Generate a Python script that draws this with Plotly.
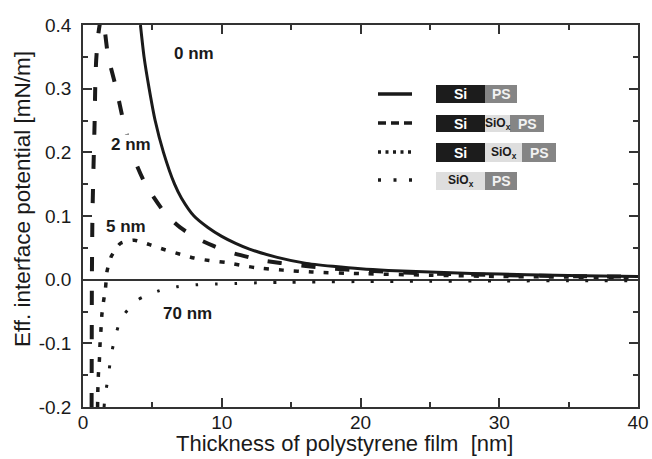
import plotly.graph_objects as go

# Si / PS  (0 nm oxide)
x_0nm = [4.14, 4.4, 4.77, 5.2, 5.8, 6.6, 7.1, 8.0, 9.0, 10.0, 11.0, 12.0, 14.0, 16.0, 18.0, 20.0, 22.0, 25.0, 28.0, 32.0, 36.0, 40.0]
y_0nm = [0.40, 0.35, 0.30, 0.25, 0.20, 0.15, 0.128, 0.10, 0.082, 0.068, 0.057, 0.048, 0.035, 0.026, 0.021, 0.017, 0.0145, 0.012, 0.0098, 0.0078, 0.0062, 0.005]

# Si / SiOx 2 nm / PS
x_2nm = [0.62, 0.63, 0.64, 0.68, 0.76, 0.84, 0.88, 0.95, 1.10, 1.25, 1.40, 1.55, 1.80, 2.40, 2.90, 3.60, 4.50, 6.00, 7.00, 8.30, 9.40, 10.6, 12.0, 13.0, 15.4, 17.4, 20.0, 25.0, 30.0, 35.0, 40.0]
y_2nm = [-0.2, -0.1, 0.0, 0.1, 0.18, 0.25, 0.30, 0.345, 0.385, 0.405, 0.412, 0.395, 0.352, 0.30, 0.25, 0.195, 0.15, 0.102, 0.082, 0.064, 0.053, 0.043, 0.035, 0.030, 0.023, 0.0185, 0.0145, 0.0098, 0.0072, 0.0056, 0.0046]

# Si / SiOx 5 nm / PS
x_5nm = [1.05, 1.07, 1.11, 1.18, 1.23, 1.29, 1.36, 1.48, 1.62, 1.73, 2.05, 2.7, 3.7, 4.8, 5.9, 7.0, 8.0, 9.1, 10.3, 11.3, 12.4, 14.4, 16.5, 20.0, 25.0, 30.0, 35.0, 40.0]
y_5nm = [-0.2, -0.173, -0.149, -0.127, -0.10, -0.08, -0.055, -0.034, -0.014, 0.013, 0.037, 0.057, 0.062, 0.055, 0.047, 0.040, 0.034, 0.030, 0.027, 0.023, 0.019, 0.015, 0.012, 0.0095, 0.007, 0.005, 0.004, 0.003]

# SiOx 70 nm / PS
x_70nm = [1.52, 1.59, 1.83, 2.0, 2.31, 2.75, 3.93, 5.4, 6.8, 8.2, 9.6, 11.0, 12.5, 15.0, 20.0, 25.0, 30.0, 35.0, 40.0]
y_70nm = [-0.2, -0.182, -0.152, -0.122, -0.091, -0.061, -0.032, -0.018, -0.011, -0.008, -0.0069, -0.006, -0.005, -0.004, -0.003, -0.0025, -0.002, -0.0018, -0.0015]

x_ticks = [0, 10, 20, 30, 40]
y_ticks = [-0.2, -0.1, 0.0, 0.1, 0.2, 0.3, 0.4]
y_ticktext = ['-0.2', '-0.1', '0.0', '0.1', '0.2', '0.3', '0.4']

curve_labels = ['0 nm', '2 nm', '5 nm', '70 nm']
label_x = [7.99, 3.47, 3.13, 7.52]
label_y = [0.355, 0.213, 0.084, -0.053]

FONT = 'Arial, Liberation Sans, sans-serif'
INK = '#1a1a1a'
AX = '#333333'

fig = go.Figure()
fig.add_scatter(x=x_0nm, y=y_0nm, mode='lines', line=dict(color=INK, width=3, shape='spline', smoothing=0.6))
fig.add_scatter(x=x_2nm, y=y_2nm, mode='lines', line=dict(color=INK, width=4, dash='14px,20px', shape='spline', smoothing=0.6))
fig.add_scatter(x=x_5nm, y=y_5nm, mode='lines', line=dict(color=INK, width=3.5, dash='5px,10px', shape='spline', smoothing=0.6))
fig.add_scatter(x=x_70nm, y=y_70nm, mode='lines', line=dict(color=INK, width=3, dash='3px,16.5px', shape='spline', smoothing=0.6))

# curve labels
for txt, lx, ly in zip(curve_labels, label_x, label_y):
    fig.add_annotation(x=lx, y=ly, text='<b>%s</b>' % txt, showarrow=False,
                       xanchor='center', yanchor='middle',
                       font=dict(family=FONT, size=17, color=INK),
                       bgcolor='white' if txt == '2 nm' else 'rgba(0,0,0,0)', borderpad=0)

# hand-made legend (layer stacks drawn as boxes)
def px_x(p):
    return (p - 83) / 555.0

def px_y(p):
    return (407 - p) / 382.0

BLACK = '#1c1c1c'
GREY = '#858585'
LIGHT = '#dedede'

rows = [
    dict(y=94, dash='solid', boxes=[(436, 485, BLACK, 'Si'), (485, 517, GREY, 'PS')], top=85, bot=103),
    dict(y=123, dash='8px,5px', boxes=[(436, 485, BLACK, 'Si'), (485, 510, LIGHT, 'SiO<sub>x</sub>'), (510, 544, GREY, 'PS')], top=115, bot=132),
    dict(y=152, dash='3px,4.5px', boxes=[(436, 485, BLACK, 'Si'), (485, 522, LIGHT, 'SiO<sub>x</sub>'), (522, 556, GREY, 'PS')], top=143, bot=162),
    dict(y=180, dash='3px,12.5px', boxes=[(436, 485, LIGHT, 'SiO<sub>x</sub>'), (485, 517, GREY, 'PS')], top=172, bot=190),
]
for r in rows:
    fig.add_shape(type='line', xref='paper', yref='paper', x0=px_x(378), x1=px_x(412),
                  y0=px_y(r['y']), y1=px_y(r['y']), line=dict(color=INK, width=3.3, dash=r['dash']))
    for x0, x1, col, lab in r['boxes']:
        fig.add_shape(type='rect', xref='paper', yref='paper', x0=px_x(x0), x1=px_x(x1),
                      y0=px_y(r['bot']), y1=px_y(r['top']), fillcolor=col, line=dict(width=0))
        if col == BLACK:
            tc, sz = 'white', 14
        elif col == GREY:
            tc, sz = '#f2f2f2', 14
        else:
            tc, sz = INK, 12
        fig.add_annotation(xref='paper', yref='paper', x=px_x((x0 + x1) / 2), y=px_y((r['top'] + r['bot']) / 2),
                           xanchor='center', yanchor='middle',
                           text='<b>%s</b>' % lab, showarrow=False, font=dict(family=FONT, size=sz, color=tc))

# axis titles
fig.add_annotation(xref='paper', yref='paper', x=px_x(344), y=px_y(443), text='Thickness of polystyrene film  [nm]',
                   xanchor='center', yanchor='middle',
                   showarrow=False, font=dict(family=FONT, size=22, color=INK))
fig.add_annotation(xref='paper', yref='paper', x=px_x(22), y=px_y(199), text='Eff. interface potential [mN/m]',
                   xanchor='center', yanchor='middle',
                   textangle=-90, showarrow=False, font=dict(family=FONT, size=22.5, color=INK))

fig.update_layout(
    width=652, height=459,
    margin=dict(l=83, r=14, t=25, b=52),
    plot_bgcolor='white', paper_bgcolor='white',
    showlegend=False,
    font=dict(family=FONT, size=19, color=INK),
    xaxis=dict(
        range=[0, 40], tickvals=x_ticks, ticks='inside', ticklen=9, tickwidth=1.5, tickcolor=AX,
        minor=dict(dtick=5, ticks='inside', ticklen=5, tickwidth=1.5, tickcolor=AX),
        showline=True, linecolor=AX, linewidth=1.6, mirror='allticks',
        showgrid=False, zeroline=False, ticklabelstandoff=-3, automargin=False
    ),
    yaxis=dict(
        range=[-0.2, 0.4], tickvals=y_ticks, ticktext=y_ticktext, ticks='inside', ticklen=9, tickwidth=1.5, tickcolor=AX,
        minor=dict(dtick=0.05, tick0=0, ticks='inside', ticklen=5, tickwidth=1.5, tickcolor=AX),
        showline=True, linecolor=AX, linewidth=1.6, mirror='allticks',
        showgrid=False, zeroline=True, zerolinecolor=AX, zerolinewidth=1.6, ticklabelstandoff=6, automargin=False
    ),
)

fig.write_html("out.html", config={'displayModeBar': False},
               post_script="document.body.style.margin='0px';")
